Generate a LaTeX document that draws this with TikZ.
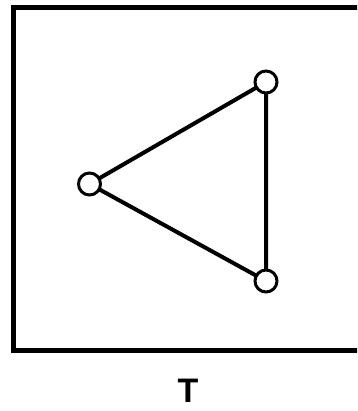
\documentclass[tikz,border=0pt]{standalone}
\usepackage{fontspec}
\setmainfont{Liberation Sans}
\begin{document}
\begin{tikzpicture}[x=1pt,y=-1pt,
  vert/.style={circle,draw=black,fill=white,line width=3pt,minimum size=22pt,inner sep=0pt},
  edge/.style={line width=4pt},
  frame/.style={line width=5pt}]
\useasboundingbox (0,0) rectangle (357,411);
\begin{scope}
\clip (0,0) rectangle (357,411);
\draw[frame] (370,7.5) -- (13.5,7.5) -- (13.5,350.5) -- (370,350.5);
\end{scope}
\coordinate (a) at (89.5,184);
\coordinate (b) at (266,82);
\coordinate (c) at (266,281);
\draw[edge] (a) -- (b) -- (c) -- cycle;
\node[vert] (na) at (a) {};
\node[vert] (nb) at (b) {};
\node[vert] (nc) at (c) {};
\node (lbl) at (188,390.5) {\fontsize{34}{34}\selectfont\bfseries T};
\end{tikzpicture}
\end{document}
